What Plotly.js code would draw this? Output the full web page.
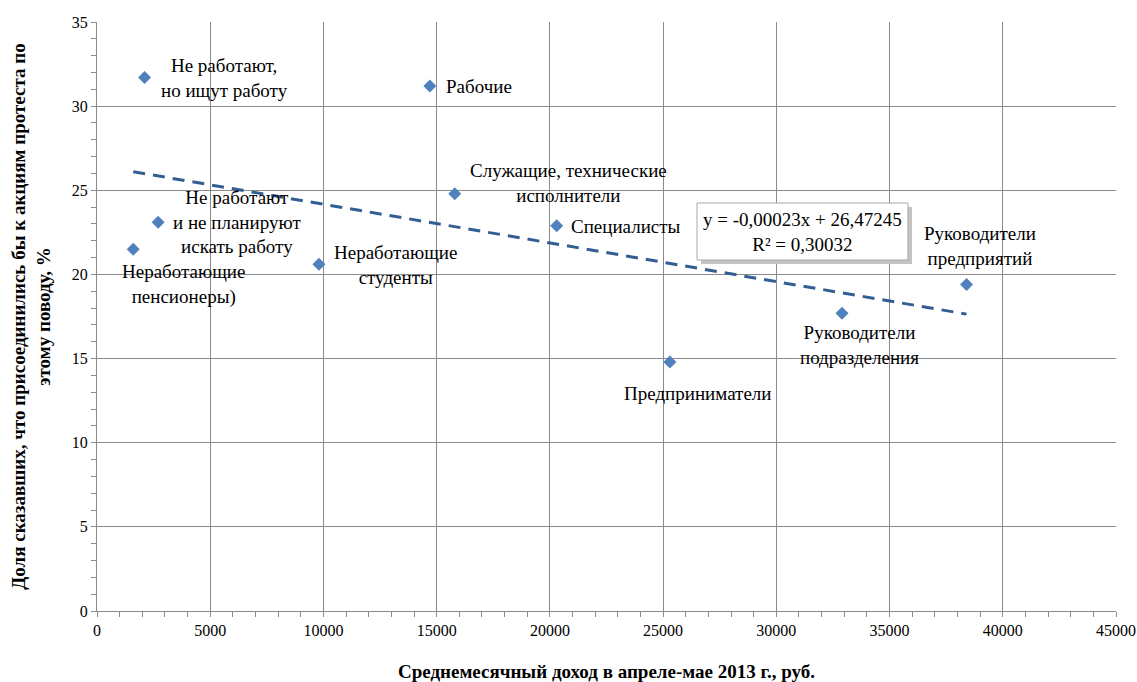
<!DOCTYPE html>
<html>
<head>
<meta charset="utf-8">
<script src="https://cdn.plot.ly/plotly-3.0.1.min.js"></script>
<style>html,body{margin:0;padding:0;background:#fff;}#chart{width:1137px;height:682px;}</style>
</head>
<body>
<div id="chart"></div>
<script>
// Data
const categories = [
  "Не работают,<br>но ищут работу",
  "Рабочие",
  "Служащие, технические<br>исполнители",
  "Специалисты",
  "Не работают<br>и не планируют<br>искать работу",
  "Неработающие<br>пенсионеры)",
  "Неработающие<br>студенты",
  "Предприниматели",
  "Руководители<br>подразделения",
  "Руководители<br>предприятий"
];
const income = [2100, 14700, 15800, 20300, 2700, 1600, 9800, 25300, 32900, 38400];
const protestShare = [31.7, 31.2, 24.8, 22.9, 23.1, 21.5, 20.6, 14.8, 17.7, 19.4];
const trendSlope = -0.00023;
const trendIntercept = 26.47245;
const trendR2 = 0.30032;
const xTicks = [0, 5000, 10000, 15000, 20000, 25000, 30000, 35000, 40000, 45000];
const yTicks = [0, 5, 10, 15, 20, 25, 30, 35];

// label offsets in pixels (layout)
const labelShift = [[80,0],[49,-1],[114,11],[69,-1],[79,0],[50,-35],[77,-1],[28,-32],[17,-32],[13,39]];

const xMin = Math.min(...income), xMax = Math.max(...income);
const trendX = [xMin, xMax];
const trendY = trendX.map(v => trendSlope * v + trendIntercept);

const fmt = (v, d) => v.toFixed(d).replace('.', ',');
const eqText = 'y = ' + fmt(trendSlope, 5) + 'x + ' + fmt(trendIntercept, 5) + '<br>R² = ' + fmt(trendR2, 5);

const serif = 'Liberation Serif';
const gridC = '#8a8a8a';

const traces = [
  {
    x: income, y: protestShare, type: 'scatter', mode: 'markers',
    marker: {symbol: 'diamond', size: 10, color: '#4F81BD', line: {width: 0}},
    hoverinfo: 'x+y', showlegend: false
  },
  {
    x: trendX, y: trendY, type: 'scatter', mode: 'lines',
    line: {color: '#335E93', width: 3, dash: '12px,8px'},
    showlegend: false, hoverinfo: 'skip'
  }
];

const annotations = categories.map((c, i) => ({
  x: income[i], y: protestShare[i], xref: 'x', yref: 'y',
  text: c, showarrow: false, xshift: labelShift[i][0], yshift: labelShift[i][1],
  xanchor: 'center', yanchor: 'middle',
  font: {family: serif, size: 19, color: '#000'}, align: 'center'
}));

const plotL = 97, plotR = 21, plotT = 22, plotB = 71, W = 1137, H = 682;
const pw = W - plotL - plotR, ph = H - plotT - plotB;
const px2x = p => (p - plotL) / pw;
const px2y = p => 1 - (p - plotT) / ph;

annotations.push({
  x: px2x(802), y: px2y(232), xref: 'paper', yref: 'paper', showarrow: false,
  xanchor: 'center', yanchor: 'middle',
  text: eqText, align: 'center',
  font: {family: serif, size: 19, color: '#000'}
});

const shapes = [
  {type: 'rect', xref: 'paper', yref: 'paper',
   x0: px2x(701), x1: px2x(912), y0: px2y(264), y1: px2y(207),
   fillcolor: '#c4c4c4', line: {width: 0}, layer: 'above'},
  {type: 'rect', xref: 'paper', yref: 'paper',
   x0: px2x(697), x1: px2x(908), y0: px2y(260), y1: px2y(203),
   fillcolor: '#ffffff', line: {width: 1, color: '#a6a6a6'}, layer: 'above'}
];

const layout = {
  width: W, height: H,
  margin: {l: plotL, r: plotR, t: plotT, b: plotB, autoexpand: false},
  paper_bgcolor: '#ffffff', plot_bgcolor: '#ffffff',
  font: {family: serif, size: 16, color: '#000'},
  xaxis: {
    range: [0, 45000], tickvals: xTicks, ticktext: xTicks.map(String),
    showgrid: true, gridcolor: gridC, gridwidth: 1,
    showline: true, linecolor: gridC, linewidth: 1,
    ticks: 'outside', ticklen: 5, tickcolor: gridC,
    minor: {dtick: 1000, ticks: 'outside', ticklen: 5, tickcolor: gridC, showgrid: false},
    zeroline: false, tickfont: {family: serif, size: 16, color: '#000'},
    title: {text: 'Среднемесячный доход в апреле-мае 2013 г., руб.', font: {family: serif, size: 19, weight: 'bold', color: '#000'}, standoff: 27},
    fixedrange: true
  },
  yaxis: {
    range: [0, 35], tickvals: yTicks, ticktext: yTicks.map(String),
    showgrid: true, gridcolor: gridC, gridwidth: 1,
    showline: true, linecolor: gridC, linewidth: 1,
    ticks: 'outside', ticklen: 5, tickcolor: gridC,
    minor: {dtick: 1, ticks: 'outside', ticklen: 5, tickcolor: gridC, showgrid: false},
    zeroline: false, tickfont: {family: serif, size: 16, color: '#000'},
    title: {text: 'Доля сказавших, что присоединились бы к акциям протеста по<br>этому поводу, %', font: {family: serif, size: 19, weight: 'bold', color: '#000'}, standoff: 16},
    fixedrange: true
  },
  annotations: annotations,
  shapes: shapes,
  showlegend: false
};

Plotly.newPlot('chart', traces, layout, {displayModeBar: false, staticPlot: true});
</script>
</body>
</html>
